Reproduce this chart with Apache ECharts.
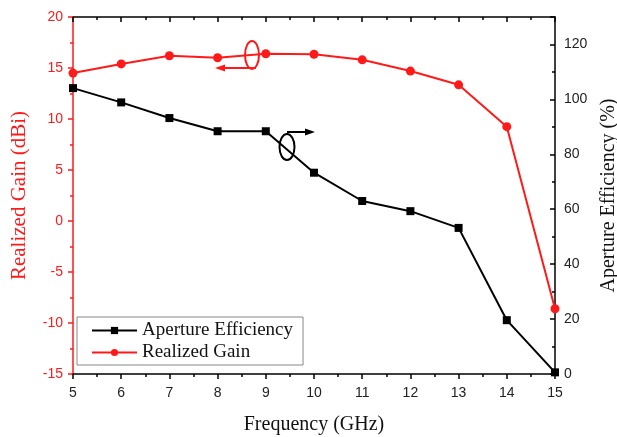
<!DOCTYPE html>
<html><head><meta charset="utf-8">
<script src="https://cdn.jsdelivr.net/npm/echarts@6/dist/echarts.min.js"></script>
<style>html,body{margin:0;padding:0;background:#fff}#c{width:617px;height:437px}</style>
</head><body><div id="c"></div>
<script>
const freq = [5, 6, 7, 8, 9, 10, 11, 12, 13, 14, 15];
const realizedGain = [14.5, 15.4, 16.2, 16.0, 16.4, 16.35, 15.8, 14.7, 13.35, 9.25, -8.6];
const apertureEff = [104.1, 98.9, 93.2, 88.4, 88.4, 73.3, 63.0, 59.3, 53.2, 19.6, 0.6];

const RED = '#ff1a1a';
const serif = 'Liberation Serif';
const sans = 'Liberation Sans';

const chart = echarts.init(document.getElementById('c'), null, {renderer: 'canvas'});
chart.setOption({
  animation: false,
  backgroundColor: '#fff',
  grid: {left: 73, right: 62, top: 17, bottom: 63, containLabel: false, outerBoundsMode: 'none'},
  legend: {
    orient: 'vertical', left: 77, top: 317,
    data: ['Aperture Efficiency', 'Realized Gain'],
    borderColor: '#888', borderWidth: 1, padding: [4, 10, 3, 14],
    itemGap: 3, itemWidth: 45, itemHeight: 9,
    textStyle: {fontFamily: serif, fontSize: 19, color: '#111', padding: [0, 0, 0, 0]}
  },
  xAxis: [{
    type: 'value', min: 5, max: 15, interval: 1, position: 'bottom',
    name: 'Frequency (GHz)', nameLocation: 'middle', nameGap: 41,
    nameTextStyle: {fontFamily: serif, fontSize: 20, color: '#111'},
    axisLine: {onZero: false, lineStyle: {color: '#000', width: 1.5}},
    axisTick: {inside: false, length: 5, lineStyle: {color: '#000', width: 1.5}},
    minorTick: {show: true, splitNumber: 2, length: 3, lineStyle: {color: '#000', width: 1.5}},
    axisLabel: {fontFamily: sans, fontSize: 14, color: '#222', margin: 12},
    splitLine: {show: false}
  }, {
    type: 'value', min: 5, max: 15, interval: 1, position: 'top',
    axisLine: {onZero: false, lineStyle: {color: '#000', width: 1.5}},
    axisTick: {inside: true, length: 5, lineStyle: {color: '#000', width: 1.5}},
    minorTick: {show: true, splitNumber: 2, length: 3, lineStyle: {color: '#000', width: 1.5}},
    axisLabel: {show: false},
    splitLine: {show: false}
  }],
  yAxis: [{
    type: 'value', min: -15, max: 20, interval: 5, position: 'left',
    name: 'Realized Gain (dBi)', nameLocation: 'middle', nameGap: 43, nameRotate: 90,
    nameTextStyle: {fontFamily: serif, fontSize: 21, color: RED},
    axisLine: {show: true, onZero: false, lineStyle: {color: RED, width: 1.5}},
    axisTick: {show: true, inside: false, length: 5, lineStyle: {color: RED, width: 1.5}},
    minorTick: {show: true, splitNumber: 2, length: 3, lineStyle: {color: RED, width: 1.5}},
    axisLabel: {fontFamily: sans, fontSize: 14, color: RED, margin: 10},
    splitLine: {show: false}
  }, {
    type: 'value', min: 0, max: 130, interval: 20, position: 'right',
    name: 'Aperture Efficiency (%)', nameLocation: 'middle', nameGap: 41, nameRotate: 90,
    nameTextStyle: {fontFamily: serif, fontSize: 20, color: '#111'},
    axisLine: {show: true, onZero: false, lineStyle: {color: '#000', width: 1.5}},
    axisTick: {show: true, inside: true, length: 5, lineStyle: {color: '#000', width: 1.5}},
    minorTick: {show: true, splitNumber: 2, length: 3, lineStyle: {color: '#000', width: 1.5}},
    axisLabel: {fontFamily: sans, fontSize: 14, color: '#222', margin: 9, showMaxLabel: false},
    splitLine: {show: false}
  }],
  series: [{
    name: 'Aperture Efficiency', type: 'line', yAxisIndex: 1, xAxisIndex: 0,
    data: freq.map((f, i) => [f, apertureEff[i]]),
    symbol: 'rect', symbolSize: 8,
    lineStyle: {color: '#000', width: 2}, itemStyle: {color: '#000'}
  }, {
    name: 'Realized Gain', type: 'line', yAxisIndex: 0, xAxisIndex: 0,
    data: freq.map((f, i) => [f, realizedGain[i]]),
    symbol: 'circle', symbolSize: 9,
    lineStyle: {color: RED, width: 2}, itemStyle: {color: RED}
  }],
  graphic: [
    {type: 'ellipse', shape: {cx: 252, cy: 55, rx: 7, ry: 14}, style: {fill: 'none', stroke: RED, lineWidth: 2}, z: 10},
    {type: 'line', shape: {x1: 256, y1: 68, x2: 222, y2: 68}, style: {stroke: RED, lineWidth: 2}, z: 10},
    {type: 'polygon', shape: {points: [[215, 68], [225, 64.5], [225, 71.5]]}, style: {fill: RED}, z: 10},
    {type: 'ellipse', shape: {cx: 287, cy: 147, rx: 7.5, ry: 13}, style: {fill: 'none', stroke: '#000', lineWidth: 2}, z: 10},
    {type: 'line', shape: {x1: 287, y1: 132, x2: 308, y2: 132}, style: {stroke: '#000', lineWidth: 2}, z: 10},
    {type: 'polygon', shape: {points: [[315, 132], [305, 128.5], [305, 135.5]]}, style: {fill: '#000'}, z: 10}
  ]
});
</script></body></html>
